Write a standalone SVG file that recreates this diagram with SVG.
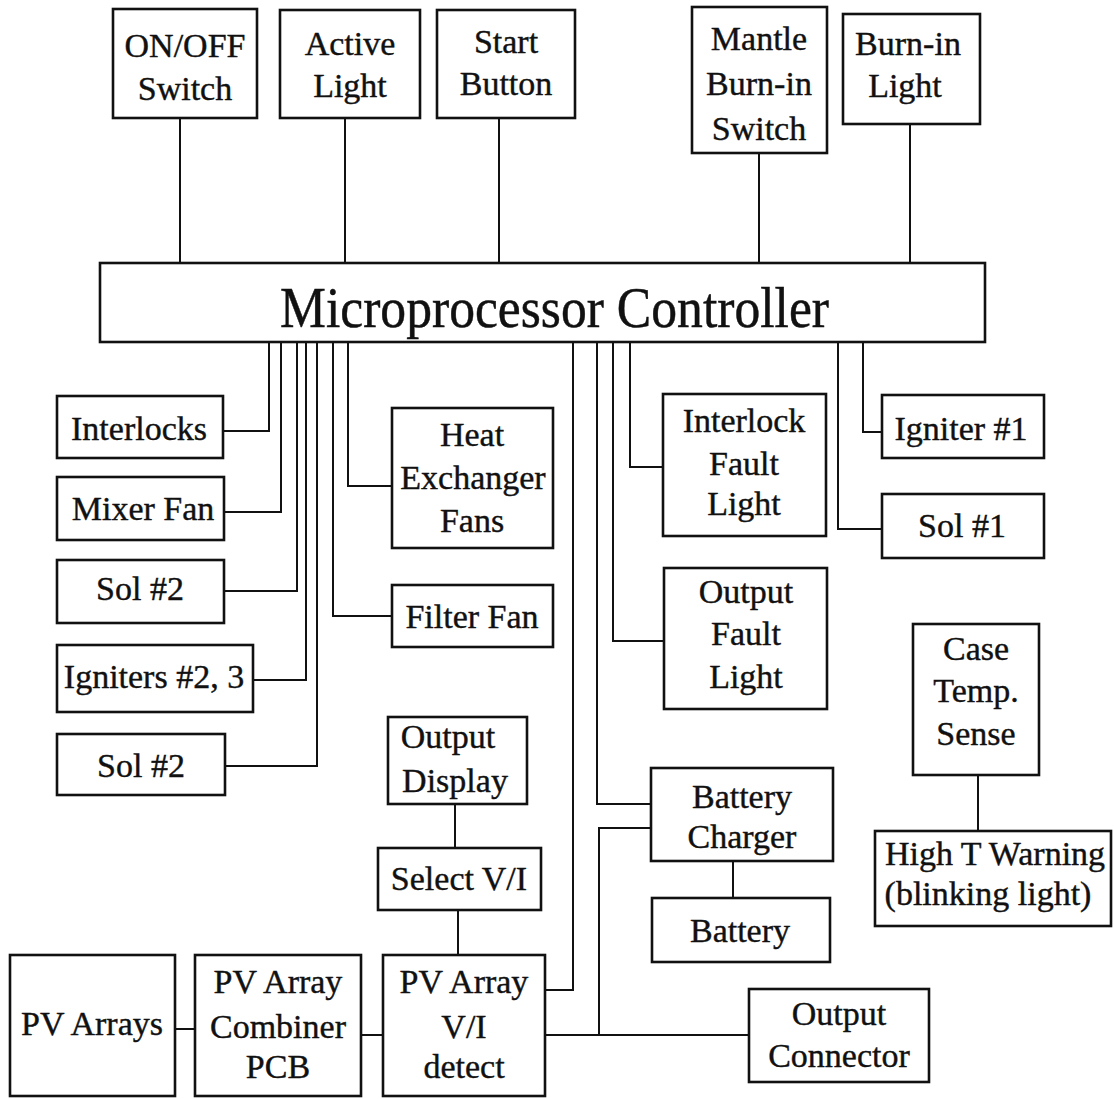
<svg xmlns="http://www.w3.org/2000/svg" width="1114" height="1099" viewBox="0 0 1114 1099">
<style>
rect.box{fill:none;stroke:#111;stroke-width:2.6}
text{font-family:"Liberation Serif","Times New Roman",serif;font-size:34px;fill:#111;stroke:#111;stroke-width:0.4;text-anchor:middle}
text.title{font-size:58px;text-anchor:start;stroke-width:0.5}
#connectors path{fill:none;stroke:#111;stroke-width:2}
</style>
<rect x="0" y="0" width="1114" height="1099" fill="#fff"/>
<g id="connectors">
<path d="M180,118V263M345,118V263M499,118V263M759,153V263M910,124V263"/>
<path d="M269,342V431H223M281,342V512H224M297,342V591H224M306,342V680H253M317,342V766H225M333,342V616H392M348,342V486H392"/>
<path d="M573,342V990H545M597,342V804H651M613,342V641H664M630,342V467H663"/>
<path d="M838,342V529H882M863,342V432H882"/>
<path d="M978,775V831M733,861V898M455,804V848M458,910V955"/>
<path d="M175,1029H195M361,1035H383M545,1035H749M599,1035V828H651"/>
</g>
<g id="onoff"><rect class="box" x="113" y="9" width="144" height="109"/><text x="185" y="57">ON/OFF</text><text x="185" y="100">Switch</text></g>
<g id="active"><rect class="box" x="280" y="10" width="140" height="108"/><text x="350" y="55">Active</text><text x="350" y="97">Light</text></g>
<g id="start"><rect class="box" x="437" y="10" width="138" height="108"/><text x="506" y="53">Start</text><text x="506" y="95">Button</text></g>
<g id="mantle"><rect class="box" x="692" y="7" width="135" height="146"/><text x="759" y="50">Mantle</text><text x="759" y="95">Burn-in</text><text x="759" y="140">Switch</text></g>
<g id="burnin"><rect class="box" x="843" y="14" width="137" height="110"/><text x="908" y="55">Burn-in</text><text x="905" y="97">Light</text></g>
<g id="micro"><rect class="box" x="100" y="263" width="885" height="79"/><text class="title" x="280" y="327" textLength="549" lengthAdjust="spacingAndGlyphs">Microprocessor Controller</text></g>
<g id="interlocks"><rect class="box" x="57" y="396" width="166" height="62"/><text x="139" y="440">Interlocks</text></g>
<g id="mixer"><rect class="box" x="57" y="477" width="167" height="63"/><text x="143" y="520">Mixer Fan</text></g>
<g id="sol2a"><rect class="box" x="57" y="560" width="167" height="63"/><text x="140" y="600">Sol #2</text></g>
<g id="igniters23"><rect class="box" x="57" y="645" width="196" height="67"/><text x="154" y="688">Igniters #2, 3</text></g>
<g id="sol2b"><rect class="box" x="57" y="734" width="168" height="61"/><text x="141" y="777">Sol #2</text></g>
<g id="heatex"><rect class="box" x="392" y="408" width="161" height="140"/><text x="472" y="446">Heat</text><text x="473" y="489">Exchanger</text><text x="472" y="532">Fans</text></g>
<g id="filterfan"><rect class="box" x="392" y="585" width="161" height="62"/><text x="472" y="628">Filter Fan</text></g>
<g id="outdisp"><rect class="box" x="388" y="717" width="139" height="87"/><text x="448" y="748">Output</text><text x="455" y="792">Display</text></g>
<g id="selectvi"><rect class="box" x="378" y="848" width="163" height="62"/><text x="459" y="890">Select V/I</text></g>
<g id="pvarrays"><rect class="box" x="10" y="955" width="165" height="141"/><text x="92" y="1035">PV Arrays</text></g>
<g id="combiner"><rect class="box" x="195" y="955" width="166" height="141"/><text x="278" y="993">PV Array</text><text x="278" y="1038">Combiner</text><text x="278" y="1078">PCB</text></g>
<g id="videtect"><rect class="box" x="383" y="955" width="162" height="141"/><text x="464" y="993">PV Array</text><text x="464" y="1038">V/I</text><text x="464" y="1078">detect</text></g>
<g id="ifault"><rect class="box" x="663" y="394" width="163" height="142"/><text x="744" y="432">Interlock</text><text x="744" y="475">Fault</text><text x="744" y="515">Light</text></g>
<g id="ofault"><rect class="box" x="664" y="568" width="163" height="141"/><text x="746" y="603">Output</text><text x="746" y="645">Fault</text><text x="746" y="688">Light</text></g>
<g id="igniter1"><rect class="box" x="882" y="395" width="162" height="63"/><text x="961" y="440">Igniter #1</text></g>
<g id="sol1"><rect class="box" x="882" y="494" width="162" height="64"/><text x="962" y="537">Sol #1</text></g>
<g id="casetemp"><rect class="box" x="913" y="624" width="126" height="151"/><text x="976" y="660">Case</text><text x="976" y="702">Temp.</text><text x="976" y="745">Sense</text></g>
<g id="charger"><rect class="box" x="651" y="768" width="182" height="93"/><text x="742" y="808">Battery</text><text x="742" y="848">Charger</text></g>
<g id="battery"><rect class="box" x="652" y="898" width="178" height="64"/><text x="740" y="942">Battery</text></g>
<g id="hight"><rect class="box" x="875" y="831" width="236" height="95"/><text x="995" y="865">High T Warning</text><text x="988" y="905">(blinking light)</text></g>
<g id="outconn"><rect class="box" x="749" y="989" width="180" height="93"/><text x="839" y="1025">Output</text><text x="839" y="1067">Connector</text></g>
</svg>
